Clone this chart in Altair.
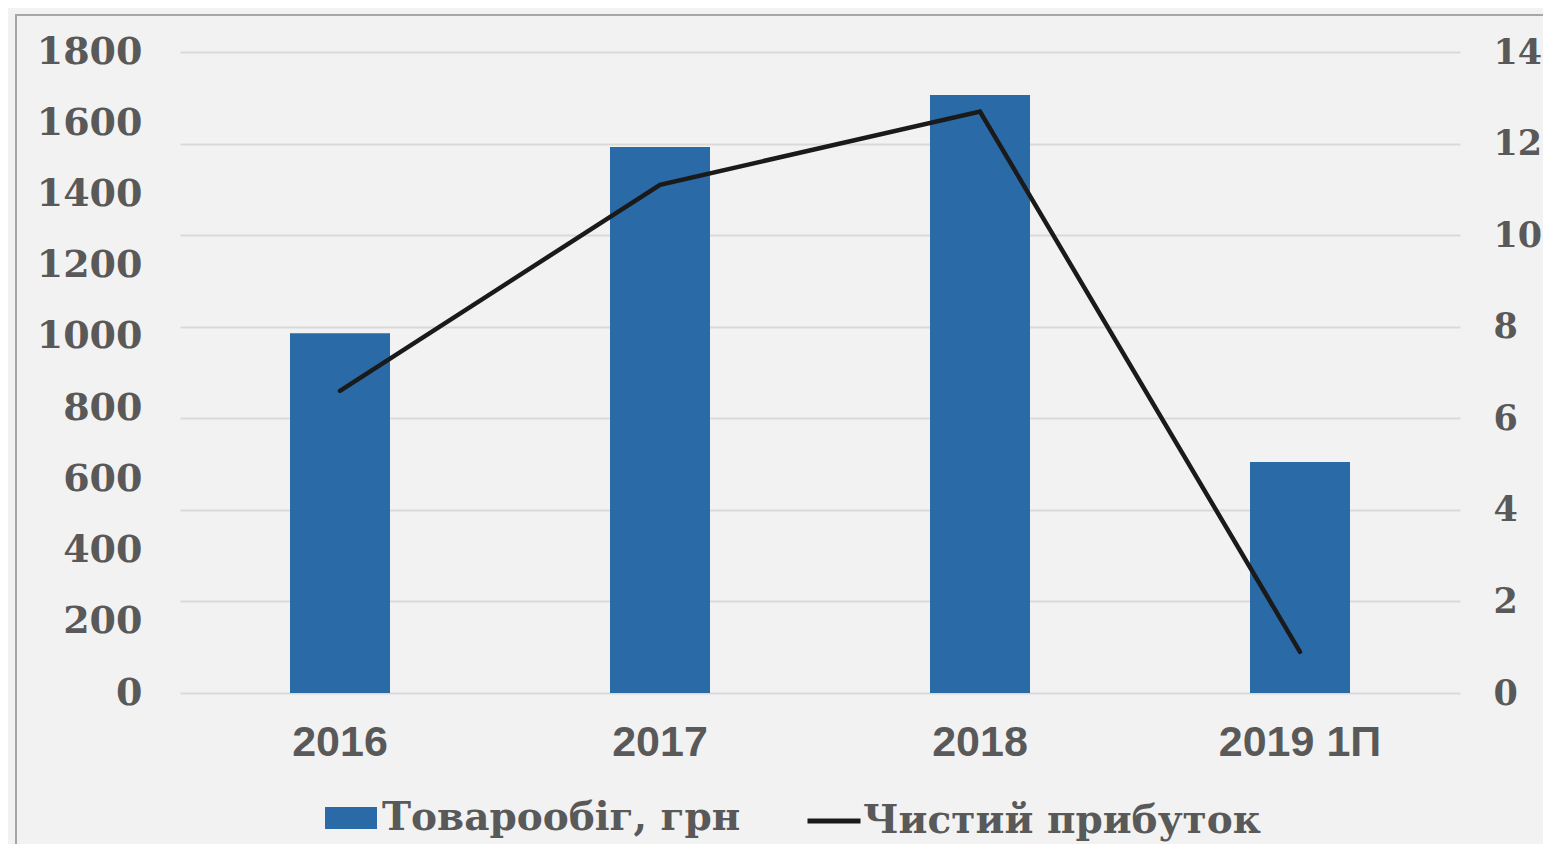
import altair as alt
import pandas as pd

years = ["2016", "2017", "2018", "2019 1П"]
turnover = [1010, 1533, 1679, 649]
profit = [6.6, 11.1, 12.7, 0.9]
bar_name = "Товарообіг, грн"
line_name = "Чистий прибуток"
left_ticks = [0, 200, 400, 600, 800, 1000, 1200, 1400, 1600, 1800]
right_ticks = [0, 2, 4, 6, 8, 10, 12, 14]

df = pd.DataFrame({
    "year": years,
    "turnover": turnover,
    "profit": profit,
    "bar_series": [bar_name] * len(years),
    "line_series": [line_name] * len(years),
})

LABEL_COLOR = "#595959"
SERIF = "DejaVu Serif"

x_enc = alt.X(
    "year:N", sort=years, title=None,
    scale=alt.Scale(paddingInner=0.6875, paddingOuter=0.34375),
    axis=alt.Axis(labelAngle=0, labelFont="Liberation Sans", labelFontSize=43,
                  labelFontWeight="bold", labelColor=LABEL_COLOR, domain=False,
                  ticks=False, grid=False, labelPadding=28),
)

legend_common = dict(
    title=None, orient="none", padding=0, labelFont=SERIF,
    labelFontSize=39, labelFontWeight="bold", labelColor=LABEL_COLOR,
    labelLimit=0, symbolOffset=0,
)

border = alt.Chart(pd.DataFrame({"k": [0]})).mark_rect(
    fill=None, stroke="#a6a6a6", strokeWidth=2
).encode(
    x=alt.value(-164), x2=alt.value(3000), y=alt.value(-37), y2=alt.value(3000)
)

bars = alt.Chart(df).mark_bar().encode(
    x=x_enc,
    y=alt.Y("turnover:Q", title=None,
            scale=alt.Scale(domain=[0, 1800], nice=False),
            axis=alt.Axis(values=left_ticks, format="d", orient="left", grid=False,
                          domain=False, ticks=False, labelFont=SERIF, labelFontSize=38,
                          labelFontWeight="bold", labelColor=LABEL_COLOR,
                          labelPadding=38)),
    fill=alt.Fill("bar_series:N",
                  scale=alt.Scale(domain=[bar_name], range=["#2a6aa6"]),
                  legend=alt.Legend(symbolType="M-1,-0.423H1V0.423H-1Z", symbolSize=2704,
                                    symbolStrokeWidth=0, legendX=145, legendY=740,
                                    labelOffset=5, **legend_common)),
)

line = alt.Chart(df).mark_line(color="#1a1a1a", strokeWidth=4.5, strokeCap="round").encode(
    x=x_enc,
    y=alt.Y("profit:Q", title=None,
            scale=alt.Scale(domain=[0, 14], nice=False),
            axis=alt.Axis(values=right_ticks, format="d", orient="right", grid=True,
                          gridColor="#d9d9d9", gridWidth=2, domain=False, ticks=False,
                          labelFont=SERIF, labelFontSize=35, labelFontWeight="bold",
                          labelColor=LABEL_COLOR, labelPadding=33)),
    stroke=alt.Stroke("line_series:N",
                      scale=alt.Scale(domain=[line_name], range=["#1a1a1a"]),
                      legend=alt.Legend(symbolType="stroke", symbolSize=2809,
                                        symbolStrokeWidth=5, legendX=625, legendY=740,
                                        labelOffset=0, **legend_common)),
)

chart = alt.layer(border, bars, line).resolve_scale(
    y="independent"
).properties(
    width=1280, height=641,
    autosize=alt.AutoSizeParams(type="none"),
    padding={"left": 172, "top": 44, "right": 83, "bottom": 151},
).configure(
    background="#f2f2f2"
).configure_view(stroke=None)

chart.save("out.html", embed_options={"renderer": "svg", "actions": False})
